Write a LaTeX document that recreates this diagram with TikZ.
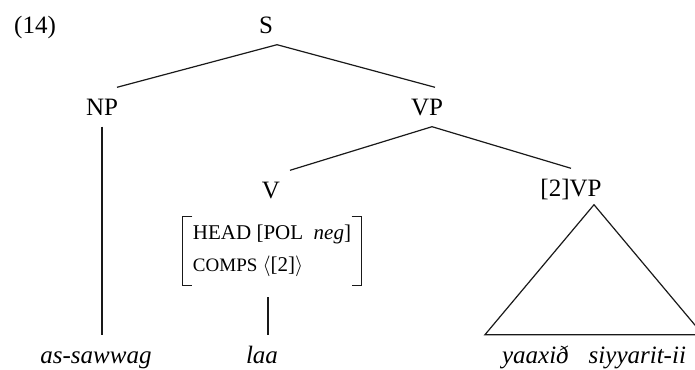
\documentclass[tikz,border=0pt]{standalone}
\usepackage{fontspec}
\setmainfont{LiberationSerif}[Extension=.ttf, UprightFont=*-Regular,
  ItalicFont=*-Italic, BoldFont=*-Bold, BoldItalicFont=*-BoldItalic]

\begin{document}
\begin{tikzpicture}[x=1pt, y=-1pt,
  cat/.style={inner xsep=0pt, inner ysep=11pt, text height=17pt, text depth=0pt,
    font=\fontsize{25}{30}\selectfont},
  leaf/.style={inner xsep=0pt, inner ysep=11pt, text height=17pt, text depth=5pt,
    font=\fontsize{25}{30}\selectfont\itshape},
  avm/.style={inner sep=0pt, minimum width=179pt, minimum height=68pt},
  branch/.style={line width=1.2pt, black!90}]
  \useasboundingbox (0,0) rectangle (695,369);
  % Categorias
  \node[cat] (num) at (35,25) {(14)};
  \node[cat] (S) at (266,25) {S};
  \node[cat] (NP) at (102,107) {NP};
  \node[cat] (VP) at (427,107) {VP};
  \node[cat] (V) at (271,190) {V};
  \node[cat] (VPb) at (571,188) {[2]VP};
  % Matriz de tracos
  \node[avm] (avm) at (272,251) {%
    \begin{tabular}{@{}l@{}}
      \fontsize{21}{25}\selectfont HEAD [POL\ \ \textit{neg}]\\[13pt]
      \fontsize{21}{25}\selectfont{\fontsize{19}{25}\selectfont COMPS} $\langle$[2]$\rangle$
    \end{tabular}};
  \draw[branch] ([xshift=10pt]avm.north west) -- (avm.north west) -- (avm.south west) -- ++(10pt,0);
  \draw[branch] ([xshift=-10pt]avm.north east) -- (avm.north east) -- (avm.south east) -- ++(-10pt,0);
  % Palavras
  \node[leaf] (ass) at (96,357) {as-sawwag};
  \node[leaf] (laa) at (262,357) {laa};
  \node[leaf] (yaax) at (594,357) {yaaxi\dh\hspace{0.8em}siyyarit-ii};
  % Ramos
  \draw[branch] ([xshift=11pt]S.south) -- ([xshift=15pt]NP.north);
  \draw[branch] ([xshift=11pt]S.south) -- ([xshift=8pt]VP.north);
  \draw[branch] (NP.south) -- (NP.south |- ass.north);
  \draw[branch] ([xshift=5pt]VP.south) -- ([xshift=19pt]V.north);
  \draw[branch] ([xshift=5pt]VP.south) -- (VPb.north);
  \draw[branch] ([xshift=-4pt,yshift=-12pt]avm.south) -- ([xshift=-4pt]avm.south |- laa.north);
  % Triangulo
  \draw[branch] ([xshift=23pt,yshift=3pt]VPb.south) -- ([xshift=-17pt]yaax.north west)
    -- ([xshift=17pt]yaax.north east) -- cycle;
\end{tikzpicture}
\end{document}
